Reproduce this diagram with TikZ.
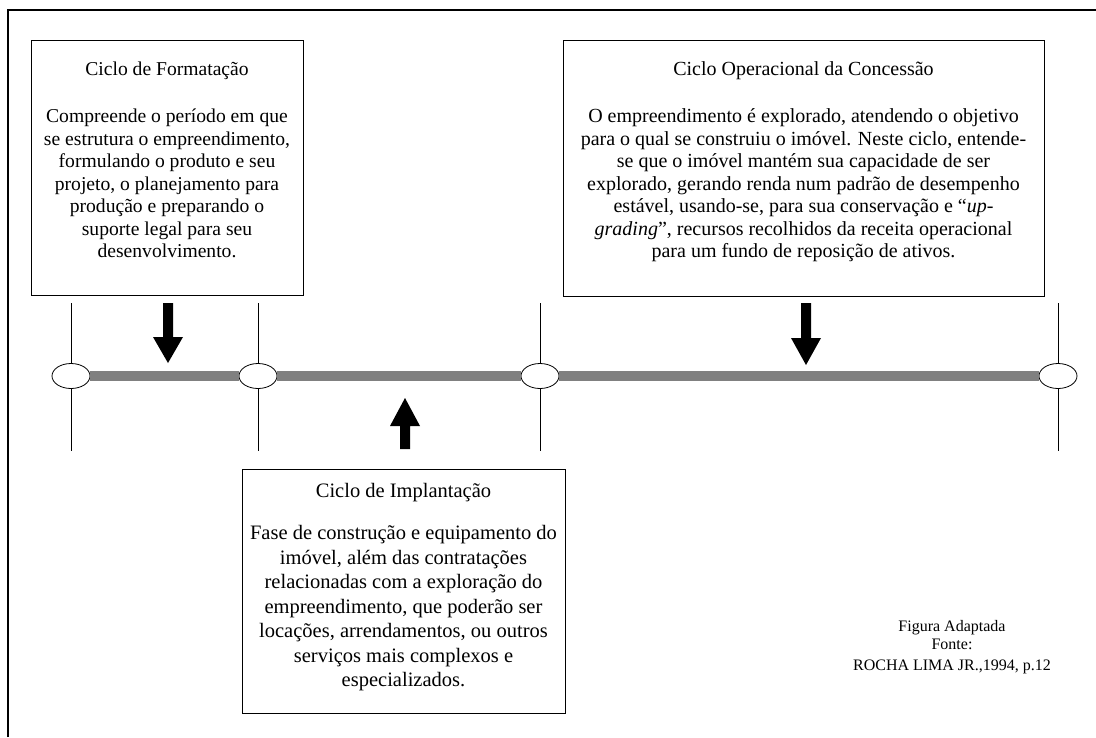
\documentclass[tikz,border=0pt]{standalone}
\usepackage{fontspec}
\setmainfont{Liberation Serif}
\usetikzlibrary{shapes.geometric}
\begin{document}
\begin{tikzpicture}[x=1pt,y=-1pt,
  frame/.style={line width=1.5pt,draw=black},
  cyclebox/.style={draw=black,line width=1.1pt,fill=white,rectangle,inner sep=0pt,anchor=north west},
  boxtext/.style={inner sep=0pt,anchor=north,align=center,font=\fontsize{20.5}{24.5}\selectfont},
  topboxtext/.style={boxtext,font=\fontsize{19.6}{22.5}\selectfont},
  widetext/.style={boxtext,font=\fontsize{20}{22.5}\selectfont},
  srctext/.style={inner sep=0pt,align=center,font=\fontsize{16}{18}\selectfont},
  tick/.style={draw=black,line width=0.9pt},
  track/.style={draw=black!50,line width=10pt},
  milestone/.style={ellipse,draw=black,line width=0.8pt,fill=white,minimum width=38pt,minimum height=25pt,inner sep=0pt},
  pics/blockdown/.style args={#1/#2}{code={
    \fill[black] (-5,0) -- (5,0) -- (5,#1) -- (15,#1) -- (0,#2) -- (-15,#1) -- (-5,#1) -- cycle;}},
  pics/blockup/.style args={#1/#2}{code={
    \fill[black] (-5,0) -- (5,0) -- (5,-#1) -- (15,-#1) -- (0,-#2) -- (-15,-#1) -- (-5,-#1) -- cycle;}}
]
\useasboundingbox (0,0) rectangle (1096,737);
\fill[white] (0,0) rectangle (1096,737);

% outer frame (left and top edges)
\draw[frame] (8,737) -- (8,10) -- (1096,10);

% vertical markers at the cycle boundaries
\coordinate (t1a) at (71,303);   \coordinate (t1b) at (71,451);
\coordinate (t2a) at (258,303);  \coordinate (t2b) at (258,451);
\coordinate (t3a) at (540,303);  \coordinate (t3b) at (540,451);
\coordinate (t4a) at (1058,303); \coordinate (t4b) at (1058,451);
\draw[tick] (t1a) -- (t1b);
\draw[tick] (t2a) -- (t2b);
\draw[tick] (t3a) -- (t3b);
\draw[tick] (t4a) -- (t4b);

% time line with its milestones
\node[milestone] (m1) at (71,376) {};
\node[milestone] (m2) at (258,376) {};
\node[milestone] (m3) at (540,376) {};
\node[milestone] (m4) at (1058,376) {};
\draw[track] (m1.east) -- (m2.west);
\draw[track] (m2.east) -- (m3.west);
\draw[track] (m3.east) -- (m4.west);

% cycle boxes
\node[cyclebox,minimum width=272pt,minimum height=255pt] (fmt) at (31,40) {};
\node[cyclebox,minimum width=481pt,minimum height=256pt] (ope) at (563,40) {};
\node[cyclebox,minimum width=323pt,minimum height=244pt] (imp) at (242,469) {};

\node[topboxtext] (fmtT) at (167,61.8) {Ciclo de Formatação\\[24.5pt]
Compreende o período em que\\
se estrutura o empreendimento,\\
formulando o produto e seu\\
projeto, o planejamento para\\
produção e preparando o\\
suporte legal para seu\\
desenvolvimento.};

\node[widetext] (opeT) at (803.5,61.6) {Ciclo Operacional da Concessão\\[24.5pt]
O empreendimento é explorado, atendendo o objetivo\\
para o qual se construiu o imóvel. Neste ciclo, entende-\\
se que o imóvel mantém sua capacidade de ser\\
explorado, gerando renda num padrão de desempenho\\
estável, usando-se, para sua conservação e “\textit{up-}\\
\textit{grading}”, recursos recolhidos da receita operacional\\
para um fundo de reposição de ativos.};

\node[boxtext] (impT) at (403.5,483.3) {Ciclo de Implantação\\[17.5pt]
Fase de construção e equipamento do\\
imóvel, além das contratações\\
relacionadas com a exploração do\\
empreendimento, que poderão ser\\
locações, arrendamentos, ou outros\\
serviços mais complexos e\\
especializados.};

% block arrows pointing at the cycles on the time line
\pic at (168,303) {blockdown={34/60}};
\pic at (806,303) {blockdown={35/62}};
\pic at (405,449) {blockup={23/51}};

% source note
\node[srctext] (src) at (952,647) {Figura Adaptada\\Fonte:\\[3.5pt]ROCHA LIMA JR.,1994, p.12};
\end{tikzpicture}
\end{document}
